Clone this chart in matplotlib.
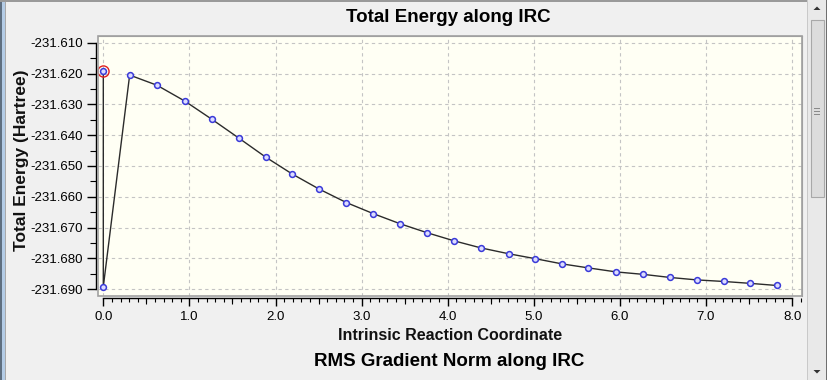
import numpy as np
import matplotlib
matplotlib.use('Agg')
import matplotlib.pyplot as plt
from matplotlib.patches import Rectangle, Polygon
from matplotlib.ticker import MultipleLocator, FormatStrFormatter

plt.rcParams['font.family'] = ['Liberation Sans', 'DejaVu Sans']

# IRC data
irc_x = [0.0, 0.0, 0.306, 0.623, 0.944, 1.258, 1.571, 1.884, 2.193, 2.506, 2.824,
         3.137, 3.450, 3.763, 4.072, 4.385, 4.707, 5.016, 5.329, 5.635,
         5.956, 6.273, 6.582, 6.895, 7.204, 7.506, 7.819]
irc_energy = [-231.6192, -231.6892, -231.6205, -231.6238, -231.6289, -231.6348,
              -231.6409, -231.6471, -231.6526, -231.6575, -231.6619,
              -231.6655, -231.6688, -231.6717, -231.6743, -231.6766, -231.6785,
              -231.6801, -231.6818, -231.6831, -231.6844, -231.6852, -231.6862,
              -231.6870, -231.6875, -231.6881, -231.6888]
ts_x = [0.0]
ts_energy = [-231.6192]

title_top = 'Total Energy along IRC'
title_bottom = 'RMS Gradient Norm along IRC'
xlabel = 'Intrinsic Reaction Coordinate'
ylabel = 'Total Energy (Hartree)'

W, H = 828, 380
fig = plt.figure(figsize=(W / 100, H / 100), dpi=100)
fig.patch.set_facecolor('#f0f0f0')


def fx(px):
    return px / W


def fy(py):
    return 1 - py / H


def box(x0, y0, x1, y1, **kw):
    fig.patches.append(Rectangle((fx(x0), fy(y1)), fx(x1) - fx(x0), fy(y0) - fy(y1),
                                 transform=fig.transFigure, **kw))


################################################################################
# window chrome
################################################################################
box(0, 0, 2, H, facecolor='#5f6f80', edgecolor='none')
box(2, 0, 5, H, facecolor='#b4cce6', edgecolor='none')
box(5, 0, 6.5, H, facecolor='#a9a9a9', edgecolor='none')
box(0, 0, W, 1.5, facecolor='#9a9a9a', edgecolor='none')
# scrollbar
box(807, 0, 826, H, facecolor='#e9e9e9', edgecolor='none')
box(807, 0, 808, H, facecolor='#c9c9c9', edgecolor='none')
box(826, 0, W, H, facecolor='#6f6f6f', edgecolor='none')
box(811, 20, 824, 197, facecolor='#dcdcdc', edgecolor='#a8a8a8', lw=0.8)
for gy in (108, 111, 114):
    box(814.5, gy, 820.5, gy + 0.8, facecolor='#8a8a8a', edgecolor='none')
fig.patches.append(Polygon([(fx(813.5), fy(10)), (fx(820.5), fy(10)), (fx(817), fy(6.5))],
                           transform=fig.transFigure, facecolor='#333333', edgecolor='none'))
fig.patches.append(Polygon([(fx(813.5), fy(370)), (fx(820.5), fy(370)), (fx(817), fy(373.5))],
                           transform=fig.transFigure, facecolor='#333333', edgecolor='none'))

################################################################################
# axes
################################################################################
ax = fig.add_axes([fx(98), fy(296), fx(802) - fx(98), fy(36) - fy(296)])
ax.set_facecolor('#fffff4')
ax.set_xlim(-0.0616, 8.115)
ax.set_ylim(-231.69222, -231.60782)

ax.plot(irc_x, irc_energy, color='#2b2b2b', lw=1.0, zorder=3,
        marker='o', ms=4.2, mfc='#dcdcff', mec='#3a3ad8', mew=1.1)
ax.plot(ts_x, ts_energy, ls='none', marker='o', ms=8, mfc='none', mec='#e02020',
        mew=1.0, zorder=4, clip_on=False)

ax.grid(True, which='major', color='#c4c4c4', lw=0.8, ls=(0, (3, 3)))

for side in ('top', 'right'):
    ax.spines[side].set_color('#a0a0a0')
for side in ('left', 'bottom'):
    ax.spines[side].set_position(('outward', 1.5))
    ax.spines[side].set_color('black')
    ax.spines[side].set_linewidth(1.0)
ax.spines['bottom'].set_bounds(0, 8)
ax.spines['left'].set_bounds(-231.690, -231.610)
ax.add_patch(Rectangle((0, 0), 1, 1, transform=ax.transAxes, fill=False,
                       edgecolor='#a0a0a0', lw=1.2, clip_on=False, zorder=5))

ax.xaxis.set_major_locator(MultipleLocator(1.0))
ax.xaxis.set_minor_locator(MultipleLocator(0.1))
ax.xaxis.set_major_formatter(FormatStrFormatter('%.1f'))
ax.yaxis.set_major_locator(MultipleLocator(0.010))
ax.yaxis.set_minor_locator(MultipleLocator(0.005))
ax.yaxis.set_major_formatter(FormatStrFormatter('%.3f'))
ax.tick_params(axis='x', which='major', length=6, width=1.0, pad=3.5, labelsize=9.5)
ax.tick_params(axis='x', which='minor', length=3, width=0.8)
ax.tick_params(axis='y', which='major', length=6.5, width=1.0, pad=3, labelsize=9.5)
ax.tick_params(axis='y', which='minor', length=4, width=0.8)

# medium ticks at the half units
sec = ax.secondary_xaxis('bottom')
sec.spines['bottom'].set_visible(False)
sec.set_xticks(np.arange(0.5, 8, 1.0))
sec.set_xticklabels([])
sec.tick_params(length=4.5, width=0.8)
sec.spines['bottom'].set_position(('outward', 1.5))

################################################################################
# text
################################################################################
fig.text(fx(448), fy(18), title_top, ha='center', va='center',
         fontsize=13.5, fontweight='bold')
fig.text(fx(450), fy(336), xlabel, ha='center', va='center',
         fontsize=11.5, fontweight='bold', color='#111111')
fig.text(fx(22), fy(160), ylabel, ha='center', va='center', rotation=90,
         fontsize=12.5, fontweight='bold', color='#111111')
fig.text(fx(449), fy(361), title_bottom, ha='center', va='center',
         fontsize=13.5, fontweight='bold')

fig.savefig('out.png', dpi=100, facecolor=fig.get_facecolor())
